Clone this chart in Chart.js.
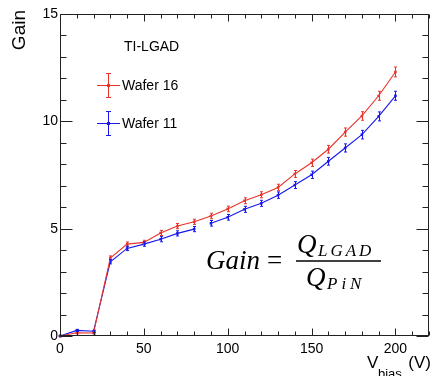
<!DOCTYPE html>
<html>
<head>
<meta charset="utf-8">
<script src="https://cdn.jsdelivr.net/npm/chart.js@4/dist/chart.umd.min.js"></script>
<style>
  html, body { margin: 0; padding: 0; background: #ffffff; }
  #c { display: block; }
</style>
</head>
<body>
<canvas id="c" width="433" height="376"></canvas>
<script>
// Bias voltage (V)
const vbias = [0, 10, 20, 30, 40, 50, 60, 70, 80, 90, 100, 110, 120, 130, 140, 150, 160, 170, 180, 190, 200];

// Gain, Wafer 16
const gainW16 = [0.00, 0.15, 0.14, 3.63, 4.28, 4.36, 4.80, 5.12, 5.32, 5.59, 5.92, 6.30, 6.58, 6.92, 7.55, 8.07, 8.70, 9.50, 10.25, 11.19, 12.30];
const errW16  = [0.03, 0.05, 0.05, 0.10, 0.10, 0.10, 0.12, 0.12, 0.12, 0.13, 0.13, 0.14, 0.14, 0.15, 0.16, 0.17, 0.18, 0.19, 0.20, 0.21, 0.23];

// Gain, Wafer 11
const gainW11 = [0.00, 0.26, 0.22, 3.46, 4.08, 4.28, 4.51, 4.78, 4.98, 5.25, 5.53, 5.90, 6.18, 6.56, 7.03, 7.51, 8.14, 8.76, 9.38, 10.23, 11.19];
const errW11  = [0.03, 0.05, 0.05, 0.10, 0.10, 0.10, 0.12, 0.12, 0.12, 0.13, 0.13, 0.14, 0.14, 0.15, 0.16, 0.17, 0.18, 0.19, 0.20, 0.21, 0.21];

// Axis tick labels
const xTickLabels = [0, 50, 100, 150, 200];
const yTickLabels = [0, 5, 10, 15];

// Series names
const seriesNames = ['Wafer 16', 'Wafer 11'];

const RED = 'rgb(232,52,42)';
const BLUE = 'rgb(24,24,236)';
const SANS = '"Liberation Sans", Arial, Helvetica, sans-serif';
const SERIF = '"Liberation Serif", "Times New Roman", serif';

// Blue trace has a break in its line after this voltage
const blueBreakAfter = 80;

function toXY(xs, ys) { return xs.map((x, i) => ({ x: x, y: ys[i] })); }

// Vertical error bars drawn from the dataset's error array through the scales
const errorBars = {
  id: 'errorBars',
  afterDatasetsDraw(chart) {
    const ctx = chart.ctx;
    const ys = chart.scales.y;
    chart.data.datasets.forEach((ds, di) => {
      const meta = chart.getDatasetMeta(di);
      ctx.save();
      ctx.strokeStyle = ds.borderColor;
      ctx.lineWidth = 1;
      meta.data.forEach((pt, i) => {
        const v = ds.data[i].y, e = ds.errors[i];
        const y1 = ys.getPixelForValue(v - e), y2 = ys.getPixelForValue(v + e);
        const x = Math.round(pt.x) + 0.5;
        ctx.beginPath();
        ctx.moveTo(x, y1); ctx.lineTo(x, y2);
        ctx.moveTo(x - 1.5, y1); ctx.lineTo(x + 1.5, y1);
        ctx.moveTo(x - 1.5, y2); ctx.lineTo(x + 1.5, y2);
        ctx.stroke();
      });
      ctx.restore();
    });
  }
};

// Frame, inward ticks on all four sides, titles, legend and formula
const decorations = {
  id: 'decorations',
  afterDraw(chart) {
    const ctx = chart.ctx;
    const a = chart.chartArea;
    const xs = chart.scales.x, ys = chart.scales.y;
    ctx.save();
    ctx.strokeStyle = '#222';
    ctx.lineWidth = 1;
    const L = Math.round(a.left) + 0.5, R = Math.round(a.right) - 0.5;
    const T = Math.round(a.top) + 0.5, B = Math.round(a.bottom) - 0.5;
    ctx.strokeRect(L, T, R - L, B - T);

    ctx.beginPath();
    for (let v = xs.min; v <= xs.max + 1e-9; v += 10) {
      const px = Math.round(xs.getPixelForValue(v)) + 0.5;
      const len = (v % 50 === 0) ? 7 : 4;
      ctx.moveTo(px, B); ctx.lineTo(px, B - len);
      ctx.moveTo(px, T); ctx.lineTo(px, T + len);
    }
    for (let v = ys.min; v <= ys.max + 1e-9; v += 1) {
      const py = Math.round(ys.getPixelForValue(v)) + 0.5;
      const len = (v % 5 === 0) ? 12 : 6;
      ctx.moveTo(L, py); ctx.lineTo(L + len, py);
      ctx.moveTo(R, py); ctx.lineTo(R - len, py);
    }
    ctx.stroke();

    // Y title
    ctx.fillStyle = '#000';
    ctx.save();
    ctx.translate(25, 10);
    ctx.rotate(-Math.PI / 2);
    ctx.font = '19px ' + SANS;
    ctx.textAlign = 'right';
    ctx.textBaseline = 'alphabetic';
    ctx.fillText('Gain', 0, 0);
    ctx.restore();

    // X title: V_bias (V)
    ctx.textBaseline = 'alphabetic';
    ctx.textAlign = 'right';
    ctx.font = '17px ' + SANS;
    ctx.fillText('(V)', 431, 368);
    ctx.textAlign = 'left';
    ctx.font = '17px ' + SANS;
    ctx.fillText('V', 367, 368);
    ctx.font = '13px ' + SANS;
    ctx.fillText('bias', 378, 378);

    // Legend
    ctx.font = '14px ' + SANS;
    ctx.textAlign = 'left';
    ctx.textBaseline = 'middle';
    ctx.fillText('TI-LGAD', 124, 47);
    const entries = [
      { name: seriesNames[0], color: RED, cy: 85 },
      { name: seriesNames[1], color: BLUE, cy: 123 }
    ];
    entries.forEach(en => {
      const cx = 108.5;
      ctx.strokeStyle = en.color;
      ctx.lineWidth = 1;
      ctx.beginPath();
      ctx.moveTo(97, en.cy + 0.5); ctx.lineTo(120, en.cy + 0.5);
      ctx.moveTo(cx, en.cy - 12); ctx.lineTo(cx, en.cy + 12);
      ctx.moveTo(cx - 2.5, en.cy - 12 + 0.5); ctx.lineTo(cx + 2.5, en.cy - 12 + 0.5);
      ctx.moveTo(cx - 2.5, en.cy + 12 + 0.5); ctx.lineTo(cx + 2.5, en.cy + 12 + 0.5);
      ctx.stroke();
      ctx.fillStyle = en.color;
      ctx.fillRect(cx - 1.5, en.cy - 1, 3, 3);
      ctx.fillStyle = '#000';
      ctx.fillText(en.name, 122, en.cy + 1);
    });

    // Formula: Gain = Q_LGAD / Q_PiN
    ctx.fillStyle = '#000';
    ctx.textBaseline = 'alphabetic';
    ctx.textAlign = 'left';
    ctx.font = 'italic 27px ' + SERIF;
    ctx.fillText('Gain', 206, 269);
    ctx.font = '27px ' + SERIF;
    ctx.fillText('=', 267, 269);
    ctx.font = 'italic 27px ' + SERIF;
    ctx.fillText('Q', 297, 253);
    ctx.fillText('Q', 306, 286);
    ctx.font = 'italic 17px ' + SERIF;
    if ('letterSpacing' in ctx) ctx.letterSpacing = '3px';
    ctx.fillText('LGAD', 318, 256);
    if ('letterSpacing' in ctx) ctx.letterSpacing = '4px';
    ctx.fillText('PiN', 327, 289);
    if ('letterSpacing' in ctx) ctx.letterSpacing = '0px';
    ctx.strokeStyle = '#000';
    ctx.lineWidth = 1.3;
    ctx.beginPath();
    ctx.moveTo(296, 261); ctx.lineTo(381, 261);
    ctx.stroke();
    ctx.restore();
  }
};

new Chart(document.getElementById('c'), {
  type: 'line',
  data: {
    datasets: [
      {
        label: seriesNames[0],
        data: toXY(vbias, gainW16),
        errors: errW16,
        borderColor: RED,
        backgroundColor: RED,
        borderWidth: 1.1,
        pointStyle: 'rect',
        pointRadius: 1.8,
        pointBorderWidth: 0,
        tension: 0,
        fill: false
      },
      {
        label: seriesNames[1],
        data: toXY(vbias, gainW11),
        errors: errW11,
        borderColor: BLUE,
        backgroundColor: BLUE,
        borderWidth: 1.1,
        pointStyle: 'rect',
        pointRadius: 1.8,
        pointBorderWidth: 0,
        tension: 0,
        fill: false,
        segment: {
          borderColor: c => (c.p0.parsed.x === blueBreakAfter ? 'rgba(0,0,0,0)' : undefined)
        }
      }
    ]
  },
  options: {
    responsive: false,
    animation: false,
    devicePixelRatio: 1,
    clip: false,
    layout: { padding: { left: 0, top: 14, right: 2, bottom: 0 } },
    plugins: { legend: { display: false }, tooltip: { enabled: false } },
    scales: {
      x: {
        type: 'linear',
        min: 0,
        max: 220,
        grid: { display: false, drawTicks: false },
        border: { display: false },
        afterFit: s => { s.height = 40; },
        afterBuildTicks: s => { s.ticks = xTickLabels.map(v => ({ value: v })); },
        ticks: {
          includeBounds: false,
          padding: 5,
          maxRotation: 0,
          autoSkip: false,
          color: '#000',
          font: { family: SANS, size: 14 }
        }
      },
      y: {
        type: 'linear',
        min: 0,
        max: 15,
        grid: { display: false, drawTicks: false },
        border: { display: false },
        afterFit: s => { s.width = 60; },
        afterBuildTicks: s => { s.ticks = yTickLabels.map(v => ({ value: v })); },
        ticks: {
          includeBounds: false,
          padding: 2,
          autoSkip: false,
          color: '#000',
          font: { family: SANS, size: 14 }
        }
      }
    }
  },
  plugins: [errorBars, decorations]
});
</script>
</body>
</html>
